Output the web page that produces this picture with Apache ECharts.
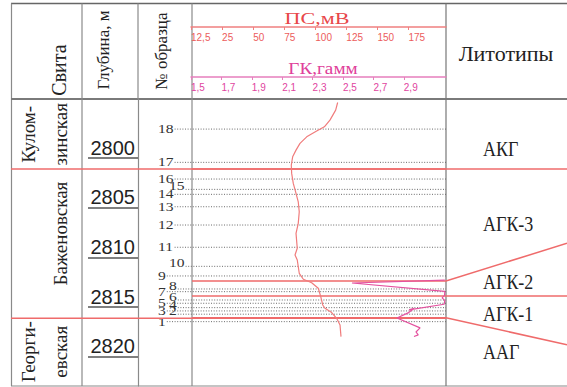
<!DOCTYPE html>
<html><head><meta charset="utf-8">
<script src="https://cdn.jsdelivr.net/npm/echarts@6/dist/echarts.min.js"></script>
<style>html,body{margin:0;padding:0;background:#fff}#c{width:567px;height:387px}</style>
</head><body><div id="c"></div>
<script>
// ---------------- data ----------------
const depthTicks = [2800, 2805, 2810, 2815, 2820];
const psTickLabels = ['12,5', '25', '50', '75', '100', '125', '150', '175'];
const gkTickLabels = ['1,5', '1,7', '1,9', '2,1', '2,3', '2,5', '2,7', '2,9'];

const sampleNumbers = [1, 2, 3, 4, 5, 6, 7, 8, 9, 10, 11, 12, 13, 14, 15, 16, 17, 18];
const sampleDepths = [2816.47, 2815.72, 2815.39, 2815.06, 2814.62, 2814.29, 2813.45, 2813.18, 2811.87,
  2810.90, 2808.98, 2806.74, 2804.90, 2803.65, 2803.15, 2802.11, 2800.43, 2797.08];

const formationNames = ['Кулом-\nзинская', 'Баженовская', 'Георги-\nевская'];
const formationLabelDepths = [2797.6, 2807.6, 2819.5];
const formationBoundaries = [2801.11, 2816.12];

const lithoNames = ['АКГ', 'АГК-3', 'АГК-2', 'АГК-1', 'ААГ'];
const lithoLabelDepths = [2799.1, 2806.6, 2812.5, 2815.7, 2819.5];
const lithoBoundTrack = [2801.11, 2812.37, 2813.88, 2816.07];
const lithoBoundColumn = [2801.11, 2808.58, 2813.88, 2818.81];

const psDepth = [2794.40, 2795.17, 2796.18, 2796.85, 2797.28, 2797.86, 2798.52, 2799.20, 2799.87, 2800.70,
  2801.54, 2802.55, 2803.55, 2804.40, 2805.40, 2806.57, 2807.58, 2809.08, 2809.76, 2810.26, 2811.60,
  2812.20, 2812.55, 2813.11, 2813.95, 2814.79, 2815.12, 2815.56, 2816.13, 2816.80, 2817.98];
const psValue = [118.0, 116.4, 111.8, 107.3, 101.1, 93.1, 87.7, 84.5, 81.8, 80.7,
  81.0, 82.3, 84.5, 86.3, 87.1, 86.3, 84.5, 85.5, 83.7, 85.5, 87.1,
  90.4, 97.1, 102.4, 104.4, 106.0, 107.8, 113.2, 117.2, 119.9, 120.7];

const gkDepth = [2812.28, 2812.58, 2813.43, 2813.83, 2814.08, 2814.34, 2814.72, 2815.29, 2815.14,
  2815.59, 2816.10, 2817.10, 2817.51, 2817.80, 2817.96];
const gkValue = [3.17, 2.559, 3.17, 3.168, 3.152, 3.17, 3.165, 2.934, 2.967,
  2.928, 2.855, 3.007, 2.980, 2.995, 2.967];

// ---------------- layout (styles / positions) ----------------
const C = {L: 11, SV: 82, DP: 138, SM: 192, TR: 446, R: 567, TOP: 3.5, HB: 99, BOT: 386};
const DMIN = 2794.05, DMAX = 2822.95;
const BODY_TOP = 99, BODY_H = 287;
const TRACK_L = 191, TRACK_W = 255;
const PS_TICK_PX = 31.07, GK_TICK_PX = 30.4;
const RED = '#ef6b6b', PS_COL = '#f07c7c', GK_COL = '#e4529f';
const GRAY = '#8a8a8a';
const SERIF = '"Liberation Serif", "Times New Roman", serif';
const SANS = '"Liberation Sans", Arial, sans-serif';

// shifted sample labels: alternate when neighbouring samples are close
const sampleShift = [];
sampleDepths.forEach((d, i) => {
  sampleShift.push(i > 0 && !sampleShift[i - 1] && (sampleDepths[i - 1] - d) < 1.1 ? 1 : 0);
});

const chart = echarts.init(document.getElementById('c'), null, {renderer: 'svg', width: 567, height: 387});

function depthAxis(g) {
  return {type: 'value', gridIndex: g, inverse: true, min: DMIN, max: DMAX, show: false};
}
const idx = psTickLabels.map((_, i) => i);

const option = {
  animation: false,
  backgroundColor: '#fff',
  grid: [
    {left: C.L, width: C.R - C.L, top: BODY_TOP, height: BODY_H},          // 0 frame
    {left: C.DP, width: C.SM - C.DP, top: BODY_TOP, height: BODY_H},       // 1 depth axis at column edge
    {left: TRACK_L, width: TRACK_W, top: BODY_TOP, height: BODY_H},        // 2 curve track
    {left: TRACK_L, width: TRACK_W, top: 26, height: 1},                   // 3 PS header scale
    {left: TRACK_L, width: TRACK_W, top: 76, height: 1}                    // 4 GK header scale
  ],
  xAxis: [
    {type: 'value', gridIndex: 0, min: 0, max: 1, show: false},
    {type: 'value', gridIndex: 1, min: 0, max: 1, show: false},
    {type: 'value', gridIndex: 2, min: 0, max: TRACK_W / PS_TICK_PX * 25, show: false},
    {type: 'value', gridIndex: 2, min: 1.5, max: 1.5 + TRACK_W / GK_TICK_PX * 0.2, show: false},
    {
      type: 'value', gridIndex: 3, min: 0, max: TRACK_W / PS_TICK_PX, position: 'bottom',
      axisLine: {show: true, lineStyle: {color: '#f08080', width: 1.5}},
      axisTick: {show: true, customValues: idx, length: 3, lineStyle: {color: '#f08080'}},
      axisLabel: {customValues: idx, formatter: v => psTickLabels[Math.round(v)], align: 'left', margin: 5,
        fontSize: 10, fontFamily: SANS, color: '#ec5c5c'},
      splitLine: {show: false}
    },
    {
      type: 'value', gridIndex: 4, min: 0, max: TRACK_W / GK_TICK_PX, position: 'bottom',
      axisLine: {show: true, lineStyle: {color: '#e67fbd', width: 1.5}},
      axisTick: {show: true, customValues: idx, length: 3, lineStyle: {color: '#e67fbd'}},
      axisLabel: {customValues: idx, formatter: v => gkTickLabels[Math.round(v)], align: 'left', margin: 5,
        fontSize: 10, fontFamily: SANS, color: '#df44a0'},
      splitLine: {show: false}
    }
  ],
  yAxis: [
    depthAxis(0),
    {
      type: 'value', gridIndex: 1, inverse: true, min: DMIN, max: DMAX, position: 'left',
      axisLine: {show: true, lineStyle: {color: GRAY, width: 1.2}},
      axisTick: {show: true, customValues: depthTicks, inside: false, length: 50, lineStyle: {color: '#555', width: 1.5}},
      axisLabel: {customValues: depthTicks, inside: false, margin: 3, fontSize: 20, fontFamily: SANS,
        color: '#222', verticalAlign: 'bottom', lineHeight: 21, formatter: v => String(v)},
      splitLine: {show: false}
    },
    depthAxis(2),
    {type: 'value', gridIndex: 3, show: false},
    {type: 'value', gridIndex: 4, show: false}
  ],
  series: [
    { // sample numbers + dotted lines
      type: 'custom', xAxisIndex: 0, yAxisIndex: 0, z: 1, silent: true,
      data: sampleNumbers.map((n, i) => [0, sampleDepths[i], n, sampleShift[i]]),
      renderItem(params, api) {
        const y = api.coord([0, api.value(1)])[1];
        const n = String(api.value(2));
        const sh = api.value(3);
        const lx = sh ? 169 : 158;
        const ly = sh ? y - 3 : y;
        const w = n.length * 6 * 1.3;
        return {
          type: 'group', children: [
            {type: 'line', shape: {x1: lx + w + 1, y1: y, x2: C.TR, y2: y},
              style: {stroke: '#6a6a6a', lineWidth: 1, lineDash: [1, 1.6]}},
            {type: 'text', x: lx, y: ly, scaleX: 1.3,
              style: {text: n, fill: '#333', font: '12px ' + SERIF, align: 'left', verticalAlign: 'middle'}}
          ]
        };
      }
    },
    { // formation boundaries
      type: 'custom', xAxisIndex: 0, yAxisIndex: 0, z: 5, silent: true,
      data: formationBoundaries.map(d => [0, d]),
      renderItem(params, api) {
        const y = api.coord([0, api.value(1)])[1];
        return {type: 'line', shape: {x1: C.L, y1: y, x2: C.TR, y2: y}, style: {stroke: RED, lineWidth: 1.5}};
      }
    },
    { // lithotype boundaries
      type: 'custom', xAxisIndex: 0, yAxisIndex: 0, z: 5, silent: true,
      data: lithoBoundTrack.map((d, i) => [0, d, lithoBoundColumn[i]]),
      renderItem(params, api) {
        const y1 = api.coord([0, api.value(1)])[1];
        const y2 = api.coord([0, api.value(2)])[1];
        return {type: 'polyline', shape: {points: [[C.SM, y1], [C.TR, y1], [C.R, y2]]},
          style: {stroke: RED, lineWidth: 1.5, fill: null}};
      }
    },
    { // formation names (one rotated text per line)
      type: 'custom', xAxisIndex: 0, yAxisIndex: 0, z: 6, silent: true,
      data: formationLabelDepths.map(d => [0, d]),
      renderItem(params, api) {
        const y = api.coord([0, api.value(1)])[1];
        const lines = formationNames[params.dataIndex].split('\n');
        return {
          type: 'group',
          children: lines.map((t, k) => ({
            type: 'text', x: 60 - (lines.length - 1 - k) * 32, y: y, rotation: Math.PI / 2,
            style: {text: t, fill: '#222', font: '19px ' + SERIF, align: 'center', verticalAlign: 'middle'}
          }))
        };
      }
    },
    { // lithotype names
      type: 'custom', xAxisIndex: 0, yAxisIndex: 0, z: 6, silent: true,
      data: lithoLabelDepths.map(d => [0, d]),
      renderItem(params, api) {
        const y = api.coord([0, api.value(1)])[1];
        return {type: 'text', x: 483, y: y, scaleY: 1.15,
          style: {text: lithoNames[params.dataIndex], fill: '#222', font: '18px ' + SERIF,
            align: 'left', verticalAlign: 'middle'}};
      }
    },
    {
      name: 'ПС', type: 'line', xAxisIndex: 2, yAxisIndex: 2, z: 8, showSymbol: false, symbol: 'none',
      data: psValue.map((v, i) => [v, psDepth[i]]),
      lineStyle: {color: PS_COL, width: 1.2}
    },
    {
      name: 'ГК', type: 'line', xAxisIndex: 3, yAxisIndex: 2, z: 8, showSymbol: false, symbol: 'none',
      data: gkValue.map((v, i) => [v, gkDepth[i]]),
      lineStyle: {color: GK_COL, width: 1.2}
    }
  ],
  graphic: [
    // frame
    {type: 'line', shape: {x1: C.L, y1: C.TOP, x2: C.R, y2: C.TOP}, style: {stroke: '#666', lineWidth: 1.5}},
    {type: 'line', shape: {x1: C.L + 0.5, y1: C.TOP, x2: C.L + 0.5, y2: C.BOT}, style: {stroke: GRAY, lineWidth: 1.2}},
    {type: 'line', shape: {x1: C.L, y1: C.BOT, x2: C.R, y2: C.BOT}, style: {stroke: GRAY, lineWidth: 1.2}},
    {type: 'line', shape: {x1: C.L, y1: C.HB, x2: C.R, y2: C.HB}, style: {stroke: '#7a7a7a', lineWidth: 2}},
    {type: 'line', shape: {x1: C.SV, y1: C.TOP, x2: C.SV, y2: C.BOT}, style: {stroke: GRAY, lineWidth: 1.2}},
    {type: 'line', shape: {x1: C.DP, y1: C.TOP, x2: C.DP, y2: C.HB}, style: {stroke: GRAY, lineWidth: 1.2}},
    {type: 'line', shape: {x1: C.SM, y1: C.TOP, x2: C.SM, y2: C.BOT}, style: {stroke: GRAY, lineWidth: 1.2}},
    {type: 'line', shape: {x1: C.TR, y1: C.TOP, x2: C.TR, y2: C.BOT}, style: {stroke: '#777', lineWidth: 1.2}},
    // headers
    {type: 'text', x: 59, y: 70, rotation: Math.PI / 2,
      style: {text: 'Свита', fill: '#222', font: '20px ' + SERIF, align: 'center', verticalAlign: 'middle'}},
    {type: 'text', x: 103, y: 50, rotation: Math.PI / 2,
      style: {text: 'Глубина, м', fill: '#222', font: '17px ' + SERIF, align: 'center', verticalAlign: 'middle'}},
    {type: 'text', x: 161, y: 51, rotation: Math.PI / 2,
      style: {text: '№ образца', fill: '#222', font: '17px ' + SERIF, align: 'center', verticalAlign: 'middle'}},
    {type: 'text', x: 317, y: 18, scaleX: 1.3,
      style: {text: 'ПС,мВ', fill: '#e8474a', font: '17px ' + SERIF, align: 'center', verticalAlign: 'middle'}},
    {type: 'text', x: 323, y: 68, scaleX: 1.13,
      style: {text: 'ГК,гамм', fill: '#e0409a', font: '17px ' + SERIF, align: 'center', verticalAlign: 'middle'}},
    {type: 'text', x: 506, y: 53,
      style: {text: 'Литотипы', fill: '#222', font: '22px ' + SERIF, align: 'center', verticalAlign: 'middle'}}
  ]
};
chart.setOption(option);
</script>
</body></html>
